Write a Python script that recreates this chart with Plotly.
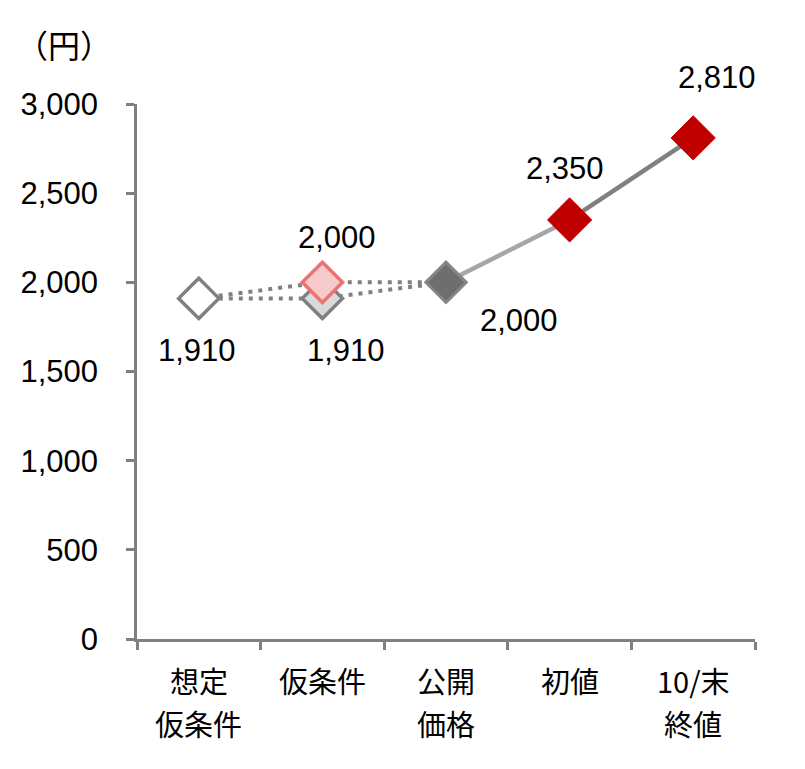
import plotly.graph_objects as go

categories = ["想定仮条件", "仮条件", "公開価格", "初値", "10/末終値"]
cat_line1 = ["想定", "仮条件", "公開", "初値", "10/末"]
cat_line2 = ["仮条件", "", "価格", "", "終値"]

# lower path (想定仮条件 -> 仮条件 lower -> 公開価格)
low_vals = [1910, 1910, 2000]
# upper path (想定仮条件 -> 仮条件 upper -> 公開価格)
up_vals = [1910, 2000, 2000]
# solid part
solid_vals = [2000, 2350, 2810]

y_ticks = [0, 500, 1000, 1500, 2000, 2500, 3000]
y_tick_labels = ["0", "500", "1,000", "1,500", "2,000", "2,500", "3,000"]

FONT = "Liberation Sans, Arial, Noto Sans CJK JP, sans-serif"
CJK = "Noto Sans CJK JP, sans-serif"
GRAY = "#808080"
NUM_SIZE = 31
CJK_SIZE = 29

fig = go.Figure()

# dotted lines
fig.add_trace(go.Scatter(x=categories[:3], y=low_vals, mode="lines",
                         line=dict(color=GRAY, width=4, dash="4px,6px"), hoverinfo="skip"))
fig.add_trace(go.Scatter(x=categories[:3], y=up_vals, mode="lines",
                         line=dict(color=GRAY, width=4, dash="4px,6px"), hoverinfo="skip"))
# solid lines
fig.add_trace(go.Scatter(x=categories[2:4], y=solid_vals[:2], mode="lines",
                         line=dict(color="#a6a6a6", width=4.5), hoverinfo="skip"))
fig.add_trace(go.Scatter(x=categories[3:5], y=solid_vals[1:], mode="lines",
                         line=dict(color="#808080", width=4.5), hoverinfo="skip"))

# markers
fig.add_trace(go.Scatter(x=[categories[0]], y=[low_vals[0]], mode="markers",
                         marker=dict(symbol="diamond", size=31, color="white",
                                     line=dict(color=GRAY, width=3.5))))
fig.add_trace(go.Scatter(x=[categories[1]], y=[low_vals[1]], mode="markers",
                         marker=dict(symbol="diamond", size=31, color="#d9d9d9",
                                     line=dict(color=GRAY, width=3.5))))
fig.add_trace(go.Scatter(x=[categories[1]], y=[up_vals[1]], mode="markers",
                         marker=dict(symbol="diamond", size=31, color="#f7cbcb",
                                     line=dict(color="#e87575", width=3.5))))
fig.add_trace(go.Scatter(x=[categories[2]], y=[solid_vals[0]], mode="markers",
                         marker=dict(symbol="diamond", size=31, color="#6e6e6e",
                                     line=dict(color="#858585", width=3))))
fig.add_trace(go.Scatter(x=categories[3:5], y=solid_vals[1:], mode="markers",
                         marker=dict(symbol="diamond", size=34, color="#c00000",
                                     line=dict(color="#c00000", width=1))))

# data labels
labels = [
    (categories[0], low_vals[0], -2, -52),
    (categories[1], low_vals[1], 24, -52),
    (categories[1], up_vals[1], 15, 45),
    (categories[2], solid_vals[0], 73, -38),
    (categories[3], solid_vals[1], -5, 51),
    (categories[4], solid_vals[2], 24, 60),
]
annotations = []
for x, y, dx, dy in labels:
    annotations.append(dict(x=x, y=y, xref="x", yref="y", text=f"{y:,}",
                            showarrow=False, xshift=dx, yshift=dy,
                            font=dict(family=FONT, size=NUM_SIZE, color="black")))

for c, l1, l2 in zip(categories, cat_line1, cat_line2):
    annotations.append(dict(x=c, y=0, xref="x", yref="paper", text=l1, showarrow=False,
                            yanchor="middle", yshift=-41,
                            font=dict(family=CJK, size=CJK_SIZE, color="black")))
    if l2:
        annotations.append(dict(x=c, y=0, xref="x", yref="paper", text=l2, showarrow=False,
                                yanchor="middle", yshift=-84,
                                font=dict(family=CJK, size=CJK_SIZE, color="black")))

# unit label
annotations.append(dict(x=0, y=1, xref="paper", yref="paper",
                        text="（円）", showarrow=False,
                        xanchor="center", yanchor="middle", xshift=-73, yshift=60,
                        font=dict(family=CJK, size=32, color="black")))

# body has an 8px default margin in the page; compensate so the plot area sits at 137..755 / 104..638
fig.update_layout(
    width=805, height=769,
    margin=dict(l=129, r=58, t=96, b=138.3),
    plot_bgcolor="white", paper_bgcolor="white",
    showlegend=False,
    annotations=annotations,
    xaxis=dict(type="category", range=[-0.5, 4.5], showgrid=False, zeroline=False,
               showline=True, linecolor=GRAY, linewidth=2.5,
               ticks="outside", tickson="boundaries", ticklen=8, tickwidth=2.5,
               tickcolor=GRAY, showticklabels=False),
    yaxis=dict(range=[0, 3000], tickvals=y_ticks, ticktext=y_tick_labels,
               showgrid=False, zeroline=False, showline=True, linecolor=GRAY,
               linewidth=2.5, ticks="outside", ticklen=8, tickwidth=2.5, tickcolor=GRAY,
               ticklabelstandoff=22,
               tickfont=dict(family=FONT, size=NUM_SIZE, color="black")),
)

fig.write_html("out.html")
